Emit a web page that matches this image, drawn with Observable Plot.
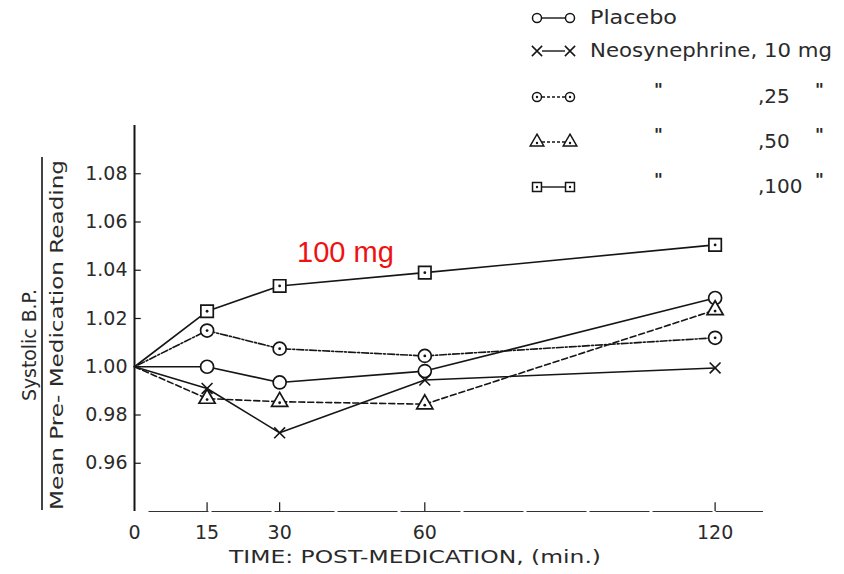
<!DOCTYPE html>
<html>
<head>
<meta charset="utf-8">
<script src="https://cdn.jsdelivr.net/npm/d3@7"></script>
<script src="https://cdn.jsdelivr.net/npm/@observablehq/plot@0.6"></script>
<style>
html, body { margin: 0; padding: 0; background: #fff; }
#chart { width: 844px; height: 574px; }
</style>
</head>
<body>
<div id="chart"></div>
<script>
// ---- data ----
const times = [0, 15, 30, 60, 120];
const seriesKeys = ["placebo", "neo10", "neo25", "neo50", "neo100"];
const placebo = [1.000, 1.000, 0.9935, 0.9982, 1.0285];
const neo10   = [1.000, 0.9910, 0.9726, 0.9945, 0.9995];
const neo25   = [1.000, 1.0150, 1.0075, 1.0045, 1.0120];
const neo50   = [1.000, 0.9868, 0.9855, 0.9845, 1.0235];
const neo100  = [1.000, 1.0230, 1.0335, 1.0390, 1.0505];

const yTicks = [0.96, 0.98, 1.00, 1.02, 1.04, 1.06, 1.08];
const xTicks = [0, 15, 30, 60, 120];

const legendSymbols = ["circle", "times", "circle", "triangle", "square"];
const legendDash = [null, null, "2,2,7,2", "6,3", null];
const innerDot = [false, false, true, true, true];
const legendNames = ["Placebo", "Neosynephrine, 10 mg", "\"", "\"", "\""];
const legendDoses = ["", "", ",25", ",50", ",100"];

const annotation = [{time: 43.6, value: 1.0473, label: "100 mg"}];

// ---- build table ----
const values = [placebo, neo10, neo25, neo50, neo100];
const rows = [];
seriesKeys.forEach((k, i) => times.forEach((t, j) => rows.push({series: k, idx: i, time: t, value: values[i][j]})));

const ink = "#151515";
const FONT = "'DejaVu Sans', sans-serif";

const marks = [];
// axis lines
marks.push(Plot.ruleX([0], {stroke: ink, strokeWidth: 2}));
marks.push(Plot.ruleY([0.94], {x1: 3, x2: 130, stroke: "#333", strokeWidth: 1.2, strokeDasharray: "60,3"}));
// inward tick marks
marks.push(Plot.ruleY(yTicks, {x1: 0, x2: 1.4, stroke: ink, strokeWidth: 1.2}));
marks.push(Plot.ruleX(xTicks.filter(d => d > 0), {y1: 0.94, y2: 0.9436, stroke: ink, strokeWidth: 1.2}));
// lines
seriesKeys.forEach((k, i) => {
  marks.push(Plot.line(rows.filter(d => d.idx === i), {
    x: "time", y: "value", stroke: ink, strokeWidth: 1.6,
    strokeDasharray: legendDash[i] || undefined
  }));
});
// markers
seriesKeys.forEach((k, i) => {
  const pts = rows.filter(d => d.idx === i && d.time > 0);
  if (legendSymbols[i] === "times") {
    marks.push(Plot.dot(pts, {x: "time", y: "value", symbol: "times", r: 5, stroke: ink, strokeWidth: 1.6}));
  } else {
    marks.push(Plot.dot(pts, {x: "time", y: "value", symbol: legendSymbols[i],
      r: legendSymbols[i] === "circle" ? 6.5 : legendSymbols[i] === "triangle" ? 6 : 7,
      fill: "white", stroke: ink, strokeWidth: 1.7}));
  }
  if (innerDot[i]) {
    marks.push(Plot.dot(pts, {x: "time", y: "value", r: 1.4, fill: ink, stroke: "none",
      dy: legendSymbols[i] === "triangle" ? 1 : 0}));
  }
});
// axes text
marks.push(Plot.axisY(yTicks, {tickSize: 0, tickPadding: 7, tickFormat: d3.format(".2f"), label: null, fill: "#2a2a2a", fontSize: 19}));
marks.push(Plot.axisX(xTicks, {tickSize: 0, tickPadding: 14, label: null, fill: "#2a2a2a", fontSize: 19}));
// annotation
marks.push(Plot.text(annotation, {x: "time", y: "value", text: "label", fill: "#ee1111",
  fontSize: 29, fontFamily: "'Liberation Sans', Arial, sans-serif"}));

const plot = Plot.plot({
  width: 844, height: 574,
  marginLeft: 134, marginRight: 81, marginTop: 125, marginBottom: 63,
  x: {domain: [0, 130], axis: null},
  y: {domain: [0.94, 1.10], axis: null},
  style: {fontFamily: FONT, fontSize: "19px", background: "#fff", color: ink},
  marks
});
document.getElementById("chart").appendChild(plot);

// ---- extra text: axis titles and legend ----
const svg = d3.select(plot);
const g = svg.append("g").attr("font-family", FONT).attr("fill", "#2a2a2a").attr("text-anchor", "start");

// x title
g.append("text").attr("x", 415).attr("y", 558).attr("text-anchor", "middle")
  .attr("dominant-baseline", "middle").attr("font-size", 18)
  .attr("textLength", 372).attr("lengthAdjust", "spacingAndGlyphs")
  .text("TIME: POST-MEDICATION, (min.)");

// y title (fraction)
g.append("text").attr("transform", "translate(30,345) rotate(-90)").attr("text-anchor", "middle")
  .attr("dominant-baseline", "middle").attr("font-size", 19)
  .attr("textLength", 112).attr("lengthAdjust", "spacingAndGlyphs")
  .text("Systolic B.P.");
g.append("line").attr("x1", 42).attr("x2", 42).attr("y1", 157).attr("y2", 510)
  .attr("stroke", ink).attr("stroke-width", 1.6);
g.append("text").attr("transform", "translate(58,335) rotate(-90)").attr("text-anchor", "middle")
  .attr("dominant-baseline", "middle").attr("font-size", 18)
  .attr("textLength", 350).attr("lengthAdjust", "spacingAndGlyphs")
  .text("Mean Pre- Medication Reading");

// legend
const rowY = [18, 51, 97, 142, 187];
const lg = g.append("g");
legendSymbols.forEach((s, i) => {
  const y = rowY[i];
  const x1 = 537, x2 = 570;
  lg.append("line").attr("x1", x1 + 5).attr("x2", x2 - 5).attr("y1", y).attr("y2", y)
    .attr("stroke", ink).attr("stroke-width", 1.4)
    .attr("stroke-dasharray", legendDash[i] ? "3,2" : null);
  const type = {circle: d3.symbolCircle, times: d3.symbolTimes, triangle: d3.symbolTriangle, square: d3.symbolSquare}[s];
  const size = s === "times" ? 70 : s === "circle" ? 64 : 80;
  [x1, x2].forEach(x => {
    lg.append("path").attr("d", d3.symbol(type, size)())
      .attr("transform", `translate(${x},${y})`)
      .attr("fill", s === "times" ? "none" : "white").attr("stroke", ink).attr("stroke-width", 1.5);
    if (innerDot[i]) lg.append("circle").attr("cx", x).attr("cy", y + (s === "triangle" ? 1 : 0)).attr("r", 1.2).attr("fill", ink);
  });
  if (i < 2) {
    lg.append("text").attr("x", 590).attr("y", y).attr("dominant-baseline", "middle")
      .attr("font-size", 19).attr("textLength", i === 0 ? 87 : 242).attr("lengthAdjust", "spacingAndGlyphs")
      .text(legendNames[i]);
  } else {
    lg.append("text").attr("x", 654).attr("y", y - 6).attr("dominant-baseline", "middle")
      .attr("font-size", 17).attr("font-weight", "bold").text(legendNames[i]);
    lg.append("text").attr("x", 758).attr("y", y).attr("dominant-baseline", "middle")
      .attr("font-size", 20).text(legendDoses[i]);
    lg.append("text").attr("x", 815).attr("y", y - 6).attr("dominant-baseline", "middle")
      .attr("font-size", 17).attr("font-weight", "bold").text("\"");
  }
});
</script>
</body>
</html>
